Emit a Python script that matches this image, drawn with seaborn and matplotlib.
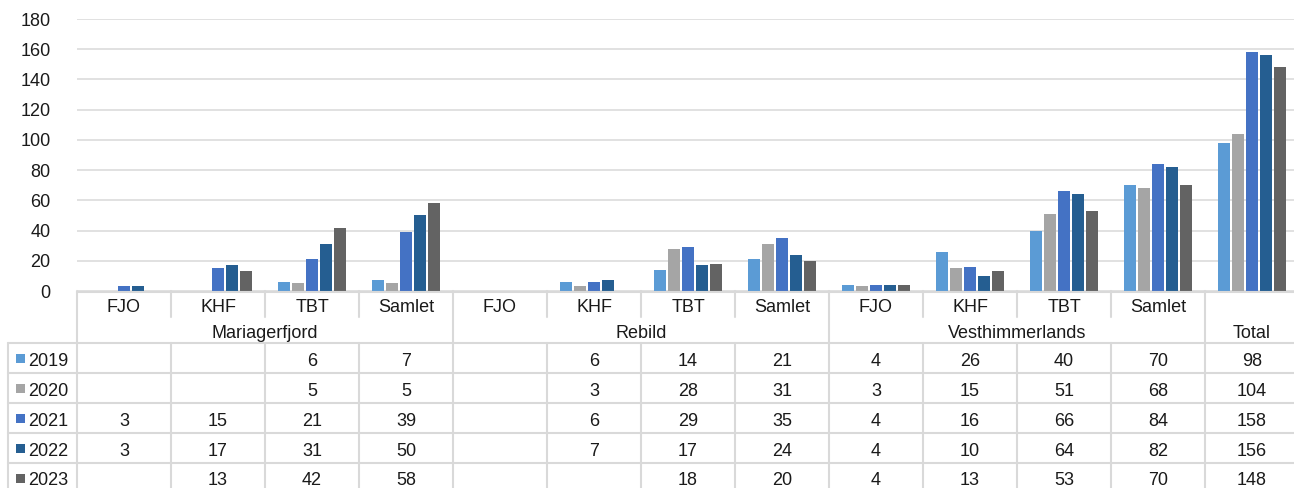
import numpy as np
import pandas as pd
import matplotlib
matplotlib.use("Agg")
import matplotlib.pyplot as plt
import matplotlib.transforms as mtransforms
from matplotlib.patches import Rectangle
import seaborn as sns

nan = np.nan
groups = ["Mariagerfjord", "Rebild", "Vesthimmerlands", "Total"]
group_span = [4, 4, 4, 1]
categories = ["FJO", "KHF", "TBT", "Samlet",
              "FJO", "KHF", "TBT", "Samlet",
              "FJO", "KHF", "TBT", "Samlet", ""]
years = ["2019", "2020", "2021", "2022", "2023"]
y2019 = [nan, nan, 6, 7, nan, 6, 14, 21, 4, 26, 40, 70, 98]
y2020 = [nan, nan, 5, 5, nan, 3, 28, 31, 3, 15, 51, 68, 104]
y2021 = [3, 15, 21, 39, nan, 6, 29, 35, 4, 16, 66, 84, 158]
y2022 = [3, 17, 31, 50, nan, 7, 17, 24, 4, 10, 64, 82, 156]
y2023 = [nan, 13, 42, 58, nan, nan, 18, 20, 4, 13, 53, 70, 148]
series = [y2019, y2020, y2021, y2022, y2023]
colors = ["#5B9BD5", "#A5A5A5", "#4472C4", "#255E91", "#636363"]
yticks = [0, 20, 40, 60, 80, 100, 120, 140, 160, 180]

rows = []
for yr, vals in zip(years, series):
    for i, v in enumerate(vals):
        rows.append({"col": i, "year": yr, "value": v})
df = pd.DataFrame(rows)

sns.set_style("white")
plt.rcParams["font.family"] = ["Liberation Sans", "DejaVu Sans"]

W, H = 1294, 488
fig = plt.figure(figsize=(W / 100, H / 100), dpi=100)
ax_left, ax_right, ax_top, ax_bottom = 77, 1294, 19, 291
ax = fig.add_axes([ax_left / W, (H - ax_bottom) / H,
                   (ax_right - ax_left) / W, (ax_bottom - ax_top) / H])
colw = 94.0

sns.barplot(data=df.dropna(), x="col", y="value", hue="year", order=list(range(13)),
            hue_order=years, palette=colors, saturation=1, width=0.745, gap=0.14,
            errorbar=None, linewidth=0, ax=ax, legend=False)

fs = 13
tc = "#1a1a1a"

ax.set_xlim(-0.5, -0.5 + (ax_right - ax_left) / colw)
ax.set_ylim(0, 180)
ax.set_yticks(yticks)
ax.set_yticklabels([str(t) for t in yticks], fontsize=fs, color=tc)
ax.tick_params(axis="y", length=0, pad=19)
ax.set_xticks([])
ax.set_xlabel("")
ax.set_ylabel("")
for s in ax.spines.values():
    s.set_visible(False)
ax.grid(axis="y", color="#d9d9d9", linewidth=1.1)
ax.set_axisbelow(True)

tr = mtransforms.blended_transform_factory(ax.transData, ax.transAxes)
ph = ax_bottom - ax_top


def ay(py):
    return (ax_bottom - py) / ph


def dx(px):
    return -0.5 + (px - ax_left) / colw


lc = "#d9d9d9"
lw = 1.5
right_x = dx(1300)
leg_left = dx(8)
row_lines = [343, 373, 403, 433, 463, 493]
toff = 3  # visual offset of text centre

# table top line
ax.plot([-0.5, right_x], [ay(291.5), ay(291.5)], transform=tr, color=lc, lw=lw, clip_on=False)
# horizontal row lines
for py in row_lines[:-1]:
    ax.plot([leg_left, right_x], [ay(py), ay(py)], transform=tr, color=lc, lw=lw, clip_on=False)
# legend column left border
ax.plot([leg_left, leg_left], [ay(343), ay(493)], transform=tr, color=lc, lw=lw, clip_on=False)
# vertical lines
group_edges = [0]
for s in group_span:
    group_edges.append(group_edges[-1] + s)
for k in range(14):
    x = -0.5 + k
    if k in group_edges:
        ax.plot([x, x], [ay(291), ay(493)], transform=tr, color=lc, lw=lw, clip_on=False)
    else:
        ax.plot([x, x], [ay(291), ay(317)], transform=tr, color=lc, lw=lw, clip_on=False)
        ax.plot([x, x], [ay(343), ay(493)], transform=tr, color=lc, lw=lw, clip_on=False)

# category labels
for i, c in enumerate(categories):
    ax.text(i, ay(304 + toff), c, transform=tr, ha="center", va="center", fontsize=fs,
            color=tc, clip_on=False)
# group labels
for g, a, b in zip(groups, group_edges[:-1], group_edges[1:]):
    ax.text((a + b - 1) / 2, ay(330 + toff), g, transform=tr, ha="center", va="center",
            fontsize=fs, color=tc, clip_on=False)
# data rows
for r, (yr, vals, col) in enumerate(zip(years, series, colors)):
    top, bot = row_lines[r], row_lines[r + 1]
    mid = (top + bot) / 2
    ax.add_patch(Rectangle((dx(16), ay(mid + 4.5)), 9 / colw, 9 / ph, transform=tr,
                           facecolor=col, edgecolor="none", clip_on=False))
    ax.text(dx(28), ay(mid + toff), yr, transform=tr, ha="left", va="center", fontsize=fs,
            color=tc, clip_on=False)
    for i, v in enumerate(vals):
        if not np.isnan(v):
            ax.text(i, ay(mid + toff), f"{int(v)}", transform=tr, ha="center", va="center",
                    fontsize=fs, color=tc, clip_on=False)

fig.savefig("out.png", dpi=100)
